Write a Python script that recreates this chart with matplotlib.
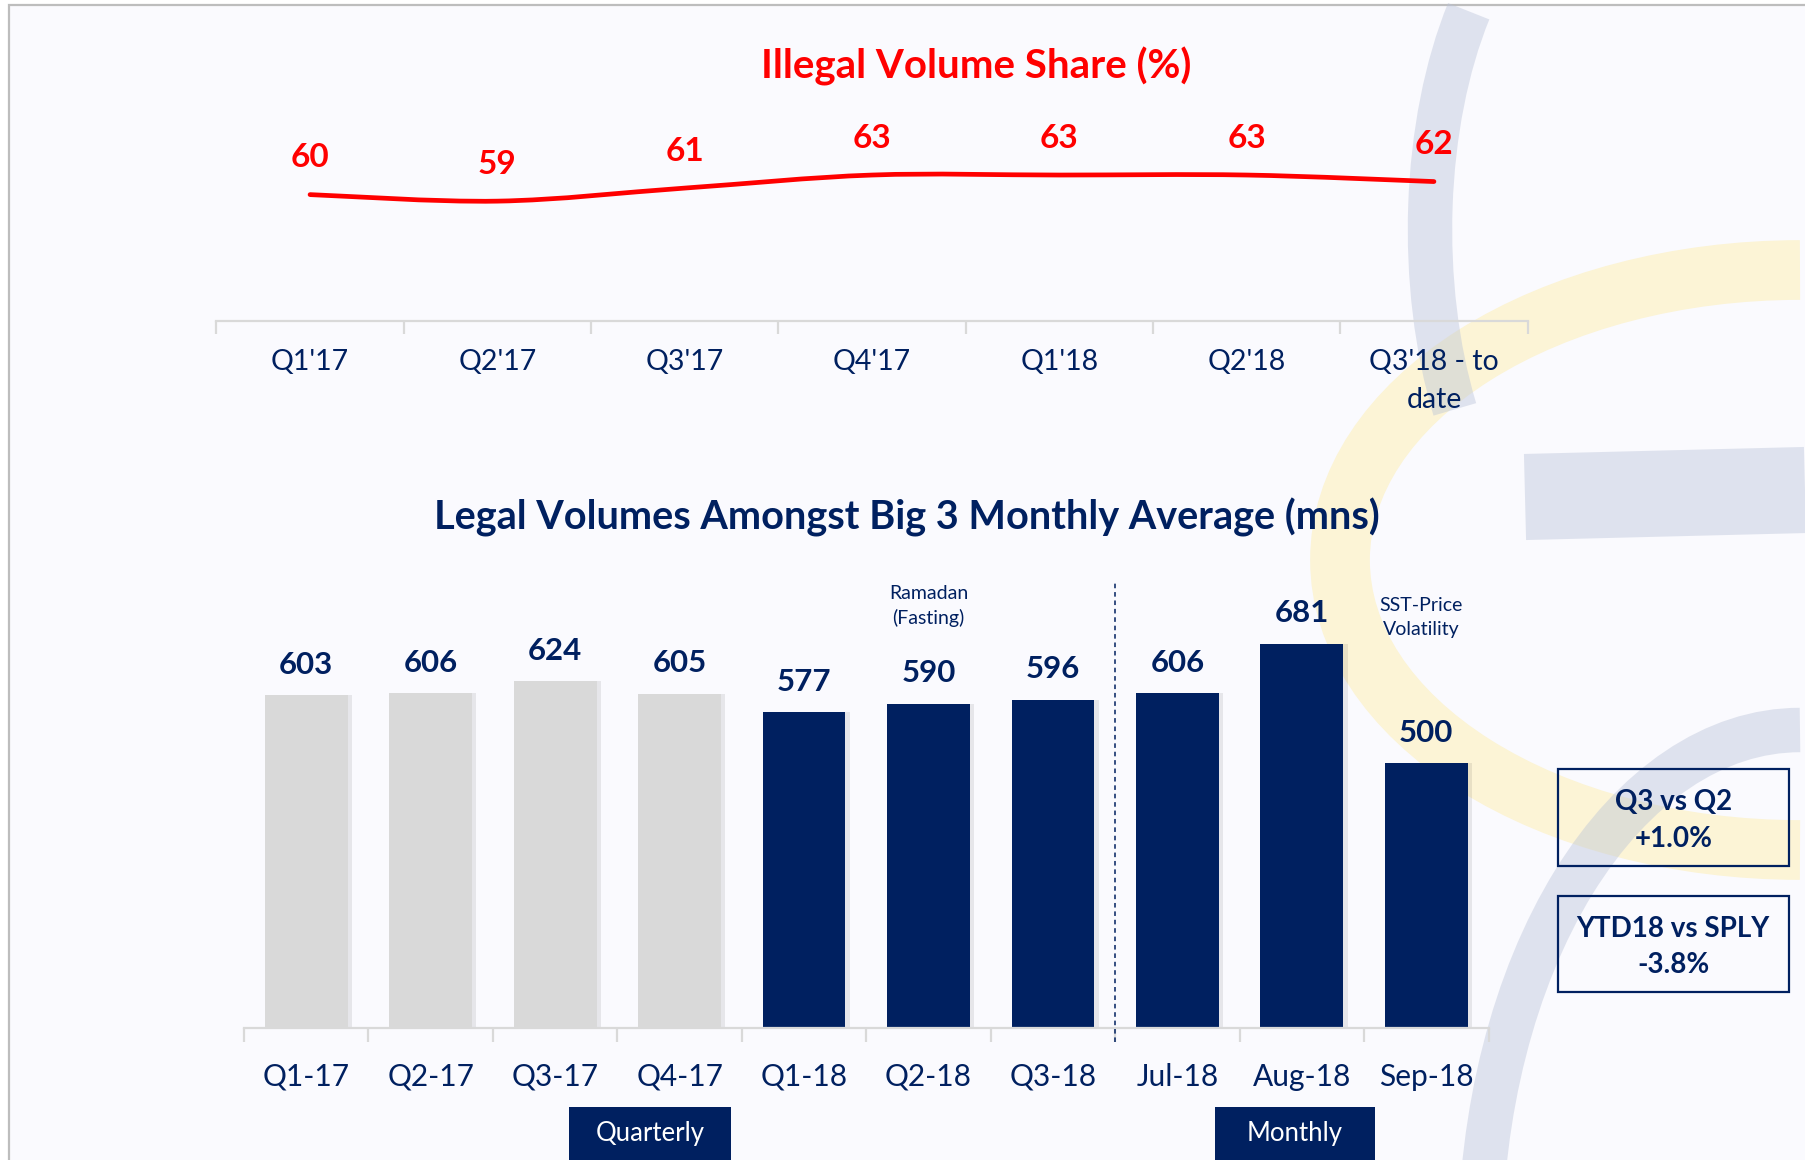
import numpy as np
import matplotlib
matplotlib.use('Agg')
import matplotlib.pyplot as plt
from matplotlib.patches import Rectangle, Arc, PathPatch
from matplotlib.path import Path

plt.rcParams['font.family'] = ['Lato', 'DejaVu Sans']

W, H = 1805, 1160
NAVY = '#002060'
RED = '#FF0000'
GREY_BAR = '#D9D9D9'
AXIS_COL = '#D9D9D9'

# --- data ---
share_cats = ["Q1'17", "Q2'17", "Q3'17", "Q4'17", "Q1'18", "Q2'18", "Q3'18 - to\ndate"]
share_vals = [60, 59, 61, 63, 63, 63, 62]

vol_cats = ['Q1-17', 'Q2-17', 'Q3-17', 'Q4-17', 'Q1-18', 'Q2-18', 'Q3-18',
            'Jul-18', 'Aug-18', 'Sep-18']
vol_vals = [603, 606, 624, 605, 577, 590, 596, 606, 681, 500]
vol_year = ['2017', '2017', '2017', '2017', '2018', '2018', '2018', '2018', '2018', '2018']

notes = [('Ramadan\n(Fasting)', 5, 738), ('SST-Price\nVolatility', 8.96, 720)]
kpis = [('Q3 vs Q2\n+1.0%', 769, 866), ('YTD18 vs SPLY\n-3.8%', 896, 992)]


def fig_rect(x0, y0, x1, y1):
    # pixel box with origin top-left -> figure fraction
    return [x0 / W, 1 - y1 / H, (x1 - x0) / W, (y1 - y0) / H]


fig = plt.figure(figsize=(W / 100, H / 100), dpi=100, facecolor='white')

# background slide + watermark, in pixel coords
bg = fig.add_axes([0, 0, 1, 1], zorder=-1)
bg.set_xlim(0, W)
bg.set_ylim(H, 0)
bg.axis('off')
bg.add_patch(Rectangle((9, 5), W, H, facecolor='#FAFAFE', edgecolor='#BDBDBD', lw=1.6))
bg.add_patch(Arc((1800, 560), 920, 580, theta1=90, theta2=270, color='#FCF4D6', lw=43))
bg.add_patch(Arc((1595, 230), 330, 680, theta1=128, theta2=240, color='#B9C2D8', alpha=0.42, lw=32))
bg.plot([1525, 1805], [497, 490], color='#B9C2D8', alpha=0.42, lw=62, solid_capstyle='butt')
bg.add_patch(Arc((1800, 1250), 640, 1040, theta1=180, theta2=270, color='#B9C2D8', alpha=0.42, lw=32))

# --- top: illegal share line ---
ax1 = fig.add_axes(fig_rect(216.4, 100, 1527.6, 321.2))
ax1.set_facecolor('none')
ax1.set_xlim(-0.5, len(share_cats) - 0.5)
ax1.set_ylim(40.6, 74.5)

# smoothed line (Catmull-Rom as bezier path through the data points)
pts = np.column_stack([np.arange(len(share_vals)), np.array(share_vals, float)])
ext = np.vstack([pts[0], pts, pts[-1]])
verts = [pts[0]]
codes = [Path.MOVETO]
for i in range(len(pts) - 1):
    p0, p1, p2, p3 = ext[i], ext[i + 1], ext[i + 2], ext[i + 3]
    verts += [p1 + (p2 - p0) / 6, p2 - (p3 - p1) / 6, p2]
    codes += [Path.CURVE4] * 3
ax1.add_patch(PathPatch(Path(verts, codes), fill=False, ec=RED, lw=3.4, capstyle='round'))

for i, v in enumerate(share_vals):
    ax1.annotate(str(v), (i, v), xytext=(0, 26.5), textcoords='offset points',
                 ha='center', va='center', color=RED, fontsize=24, fontweight='bold')

for s in ['top', 'left', 'right']:
    ax1.spines[s].set_visible(False)
ax1.spines['bottom'].set_color(AXIS_COL)
ax1.spines['bottom'].set_linewidth(1.6)
ax1.set_yticks([])
ax1.set_xticks(np.arange(len(share_cats) + 1) - 0.5)
ax1.set_xticklabels([])
ax1.tick_params(axis='x', which='major', length=9, width=1.6, color=AXIS_COL)
ax1.set_xticks(np.arange(len(share_cats)), minor=True)
ax1.set_xticklabels(share_cats, minor=True, fontsize=20.5, color=NAVY, linespacing=1.55)
ax1.tick_params(axis='x', which='minor', length=0, pad=20)

fig.text(976 / W, 1 - 66 / H, 'Illegal Volume Share (%)', ha='center', va='center',
         color=RED, fontsize=29, fontweight='bold')

# --- bottom: legal volumes bars ---
ax2 = fig.add_axes(fig_rect(244, 550, 1488.5, 1028))
ax2.set_facecolor('none')
ax2.set_xlim(-0.5, len(vol_cats) - 0.5)
ax2.set_ylim(100, 822.6)

x = np.arange(len(vol_cats))
cols = [GREY_BAR if y == '2017' else NAVY for y in vol_year]
ax2.bar(x + 0.035, vol_vals, width=0.665, color='black', alpha=0.08, zorder=1)
ax2.bar(x, vol_vals, width=0.665, color=cols, zorder=2)
for i, v in enumerate(vol_vals):
    ax2.annotate(str(v), (i, v), xytext=(0, 22), textcoords='offset points',
                 ha='center', va='center', color=NAVY, fontsize=22.5, fontweight='bold')

ax2.plot([6.5, 6.5], [79, 775], color=NAVY, lw=1.1, ls=(0, (3, 2.5)), clip_on=False, zorder=3)
for txt, xx, yy in notes:
    ax2.text(xx, yy, txt, ha='center', va='center', color=NAVY, fontsize=14, linespacing=1.5)

for s in ['top', 'left', 'right']:
    ax2.spines[s].set_visible(False)
ax2.spines['bottom'].set_color(AXIS_COL)
ax2.spines['bottom'].set_linewidth(1.6)
ax2.set_yticks([])
ax2.set_xticks(np.arange(len(vol_cats) + 1) - 0.5)
ax2.set_xticklabels([])
ax2.tick_params(axis='x', which='major', length=10, width=1.6, color=AXIS_COL)
ax2.set_xticks(x, minor=True)
ax2.set_xticklabels(vol_cats, minor=True, fontsize=21.5, color=NAVY)
ax2.tick_params(axis='x', which='minor', length=0, pad=25)

fig.text(907 / W, 1 - 517 / H, 'Legal Volumes Amongst Big 3 Monthly Average (mns)',
         ha='center', va='center', color=NAVY, fontsize=28.5, fontweight='bold')

# period tags under the axis
for txt, x0, x1 in [('Quarterly', 569, 731), ('Monthly', 1214.5, 1374.5)]:
    bg.add_patch(Rectangle((x0, 1107), x1 - x0, 60, facecolor=NAVY, edgecolor='none'))
    bg.text((x0 + x1) / 2, 1134, txt, ha='center', va='center', color='white', fontsize=18.5)

# KPI boxes
for txt, y0, y1 in kpis:
    bg.add_patch(Rectangle((1557.6, y0), 231.4, y1 - y0, facecolor='none', edgecolor=NAVY, lw=1.6))
    bg.text(1673.3, (y0 + y1) / 2 + 3, txt, ha='center', va='center', color=NAVY,
            fontsize=20, fontweight='bold', linespacing=1.5)

fig.savefig('out.png', dpi=100, facecolor='white')
